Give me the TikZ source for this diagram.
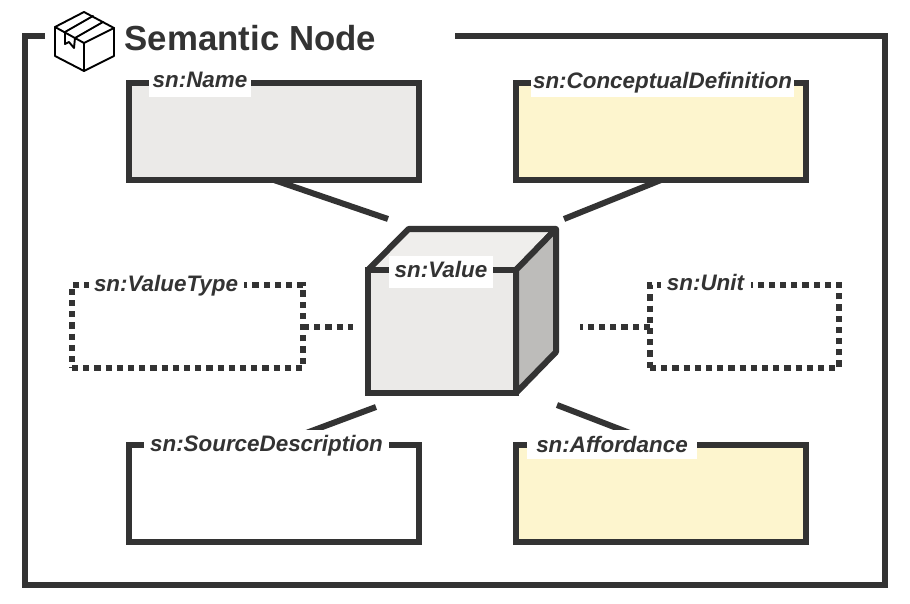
\documentclass[tikz,border=0pt]{standalone}
\usepackage{fontspec}
\setmainfont{Liberation Sans}
\definecolor{ink}{HTML}{333333}
\definecolor{palegray}{HTML}{EBEAE8}
\definecolor{topgray}{HTML}{EFEEEC}
\definecolor{sidegray}{HTML}{BDBCBA}
\definecolor{paleyellow}{HTML}{FDF5CE}
\tikzset{
  solidbox/.style={draw=ink,line width=6pt,rectangle,inner sep=0pt,outer sep=0pt},
  dotbox/.style={solidbox,line width=6pt,dash pattern=on 6.2pt off 5pt},
  fieldlabel/.style={anchor=base,fill=white,text=ink,inner sep=0pt,outer sep=0pt,font=\fontsize{22.4}{22}\selectfont\bfseries\itshape,text height=21pt,text depth=10pt},
  link/.style={draw=ink,line width=6pt},
  dotlink/.style={draw=ink,line width=6pt,dash pattern=on 6.2pt off 5pt},
  iconline/.style={draw=black,line width=1.9pt,line join=round,line cap=round},
  cubeface/.style={draw=ink,line width=6pt,line join=round}
}
\begin{document}
\begin{tikzpicture}[x=1pt,y=-1pt]
\useasboundingbox (0,0) rectangle (910,604);
% outer frame
\draw[draw=ink,line width=6pt,line join=miter] (45,36.5) -- (25,36.5) -- (25,584.5) -- (885,584.5) -- (885,36.5) -- (455,36.5);
% title
\node[anchor=base west,text=ink,inner sep=0pt,font=\fontsize{34.8}{36}\selectfont\bfseries] (title) at (124.5,50.5) {Semantic Node};
% icon
\draw[iconline] (84,12) -- (114,28) -- (114,56) -- (84,71) -- (55,56) -- (55,27) -- cycle;
\draw[iconline] (55,27) -- (84,43) -- (114,28);
\draw[iconline] (84,43) -- (84,71);
\draw[iconline] (65,32) -- (93,16);
\draw[iconline] (75,38) -- (103,22);
\draw[iconline] (65,32) -- (65,44) -- (69,42) -- (74,48) -- (75,38);
% connector free ends
\coordinate (cubeNW) at (388,219);
\coordinate (cubeNE) at (564,219);
\coordinate (cubeSW) at (376,407);
\coordinate (cubeSE) at (557,405);
\coordinate (cubeW) at (353,326.5);
\coordinate (cubeE) at (580,326.5);
% boxes
\node[solidbox,fill=palegray,minimum width=290pt,minimum height=97pt] (name) at (274,131.5) {};
\node[solidbox,fill=paleyellow,minimum width=290pt,minimum height=97pt] (concept) at (661,131.5) {};
\node[solidbox,fill=white,minimum width=290pt,minimum height=97pt] (source) at (274,493.5) {};
\node[solidbox,fill=paleyellow,minimum width=290pt,minimum height=97pt] (afford) at (661,493.5) {};
\node[dotbox,minimum width=231pt,minimum height=83pt] (vtype) at (187.5,326.5) {};
\node[dotbox,minimum width=189pt,minimum height=83pt] (unit) at (744.5,326.5) {};
\draw[link] (name.south) -- (cubeNW);
\draw[link] (concept.south) -- (cubeNE);
\draw[link] (source.north) -- (cubeSW);
\draw[link] (afford.north) -- (cubeSE);
\draw[dotlink] (vtype.east) -- (cubeW);
\draw[dotlink] (unit.west) -- (cubeE);
% cube
\draw[cubeface,fill=topgray] (368,270) -- (408.5,229) -- (556,229) -- (516,270) -- cycle;
\draw[cubeface,fill=sidegray] (516,270) -- (556,229) -- (556,352) -- (516,393) -- cycle;
\node[solidbox,fill=palegray,minimum width=148pt,minimum height=123pt] (value) at (442,331.5) {};
% labels
\node[fieldlabel,minimum width=102pt] (lname) at (200,87.3) {sn:Name};
\node[fieldlabel,minimum width=263pt,text height=22pt,text depth=8.7pt] (lconcept) at (662.5,88.3) {sn:ConceptualDefinition};
\node[fieldlabel,minimum width=155pt] (lvtype) at (166,291.7) {sn:ValueType};
\node[fieldlabel,minimum width=90pt] (lunit) at (705.5,290.7) {sn:Unit};
\node[fieldlabel,minimum width=104pt,text height=21.7pt,text depth=10.3pt] (lvalue) at (441,277.7) {sn:Value};
\node[fieldlabel,minimum width=245pt,text height=21.7pt] (lsource) at (266.5,451.7) {sn:SourceDescription};
\node[fieldlabel,minimum width=170pt,text height=22.7pt,text depth=6.3pt] (lafford) at (612,452.7) {sn:Affordance};
\end{tikzpicture}
\end{document}
